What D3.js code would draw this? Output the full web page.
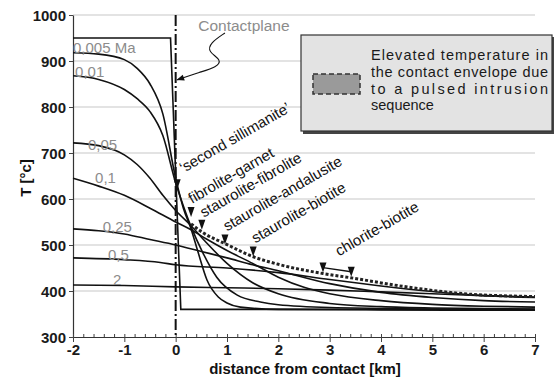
<!DOCTYPE html>
<html>
<head>
<meta charset="utf-8">
<script src="https://cdn.jsdelivr.net/npm/d3@7"></script>
<style>
body { margin: 0; background: #fff; }
svg { font-family: Arial, "Liberation Sans", sans-serif; }
</style>
</head>
<body>
<svg id="chart" width="554" height="380"></svg>
<script>
// profiles: [distance km, T °C]
var initial = [[-2, 950], [-0.1, 950], [0.1, 360], [7, 360]];
var t0005 = [[-2, 918], [-1.5, 915], [-1, 903], [-0.75, 884], [-0.5, 850], [-0.25, 785], [0, 645], [0.15, 580], [0.3, 535], [0.44, 483], [0.61, 424], [0.83, 387], [1, 374], [1.26, 365], [2, 360], [4, 359], [7, 358]];
var t001 = [[-2, 868], [-1.5, 860], [-1, 838], [-0.75, 818], [-0.5, 790], [-0.25, 738], [0, 635], [0.15, 585], [0.3, 540], [0.53, 483], [0.8, 430], [1.2, 391], [1.65, 376], [2, 370], [3, 364], [5, 361], [7, 359]];
var t005 = [[-2, 722], [-1.5, 716], [-1, 696], [-0.75, 675], [-0.5, 645], [-0.25, 608], [0, 575], [0.3, 542], [0.6, 505], [1, 460], [1.5, 418], [2, 394], [3, 373], [4, 366], [5, 363], [7, 361]];
var t01 = [[-2, 645], [-1.5, 628], [-1, 608], [-0.5, 580], [0, 550], [0.3, 533], [0.6, 513], [1, 488], [1.5, 460], [2, 430], [2.5, 408], [3, 394], [4, 379], [5, 371], [6, 367], [7, 365]];
var t025 = [[-2, 535], [-1.5, 531], [-1, 524], [-0.5, 512], [0, 500], [0.5, 486], [1, 472], [1.5, 457], [2, 444], [3, 416], [4, 397], [5, 386], [6, 379], [7, 376]];
var t05 = [[-2, 472], [-1, 468], [-0.3, 462], [0, 457], [1, 450], [2, 440], [3, 425], [4, 411], [5, 399], [6, 390], [7, 386]];
var t2 = [[-2, 413], [-1, 412], [0, 409], [1, 407], [2, 405], [3, 402], [4, 398], [5, 394], [6, 390], [7, 387]];
var profiles = [t0005, t001, t005, t01, t025, t05, t2];
var ages = ["0,005 Ma", "0,01", "0,05", "0,1", "0,25", "0,5", "2"];

// pulsed intrusion envelope
var envelope = [[0.3, 546], [0.5, 529], [1, 501], [1.5, 475], [2, 458], [2.87, 438], [3.4, 429], [4.43, 410], [5.74, 393], [7, 388]];

// isograds: name, distance, T
var isograds = ["\u2018second sillimanite\u2019", "fibrolite-garnet", "staurolite-fibrolite", "staurolite-andalusite", "staurolite-biotite", "chlorite-biotite"];
var isogradX = [0.03, 0.3, 0.51, 0.96, 1.51, 2.87];
var isogradT = [621, 561, 533, 501, 475, 440];
var chloriteEnd = [3.42, 431];

var xTicks = [-2, -1, 0, 1, 2, 3, 4, 5, 6, 7];
var yTicks = [300, 400, 500, 600, 700, 800, 900, 1000];

var svg = d3.select("#chart");
var x = d3.scaleLinear().domain([-2, 7]).range([73, 535]);
var y = d3.scaleLinear().domain([300, 1000]).range([337, 15]);

// grid
svg.append("g").selectAll("line")
    .data(yTicks.slice(1))
    .enter().append("line")
    .attr("x1", x(-2)).attr("x2", x(7))
    .attr("y1", function(d){ return y(d); })
    .attr("y2", function(d){ return y(d); })
    .attr("stroke", "#c8c8c8").attr("stroke-width", 1.2);

// axes
var yAxis = svg.append("g")
    .attr("transform", "translate(" + x(-2) + ",0)")
    .call(d3.axisLeft(y).tickValues(yTicks).tickSize(4).tickSizeOuter(0).tickFormat(function(d){ return String(d); }));
var xAxis = svg.append("g")
    .attr("transform", "translate(0," + y(300) + ")")
    .call(d3.axisBottom(x).tickValues(xTicks).tickSize(5).tickSizeOuter(0).tickFormat(function(d){ return String(d); }));
svg.append("g")
    .attr("transform", "translate(0," + y(300) + ")")
    .call(d3.axisTop(x).tickValues(d3.range(-2, 7.01, 0.2)).tickSize(3).tickFormat(""))
    .select(".domain").remove();
[yAxis, xAxis].forEach(function(a){
    a.selectAll("text").attr("font-size", 15).attr("font-weight", "bold").attr("fill", "#1a1a1a")
        .style("font-family", "Arial, 'Liberation Sans', sans-serif");
    a.select(".domain").attr("stroke", "#333").attr("stroke-width", 1.2);
});
yAxis.selectAll("text").attr("x", -7).attr("dy", "0.36em");
xAxis.selectAll("text").attr("y", 7);
svg.selectAll(".tick line").attr("stroke", "#444");

svg.append("text")
    .attr("x", 305).attr("y", 374)
    .attr("text-anchor", "middle")
    .attr("font-size", 15).attr("font-weight", "bold").attr("fill", "#111")
    .text("distance from contact [km]");
svg.append("text")
    .attr("transform", "translate(31," + (y(650) + 2) + ") rotate(-90)")
    .attr("text-anchor", "middle")
    .attr("font-size", 15).attr("font-weight", "bold").attr("fill", "#111")
    .text("T [\u00b0c]");

// curves
var line = d3.line()
    .x(function(d){ return x(d[0]); })
    .y(function(d){ return y(d[1]); })
    .curve(d3.curveMonotoneX);

svg.append("path")
    .datum(initial)
    .attr("d", d3.line().x(function(d){ return x(d[0]); }).y(function(d){ return y(d[1]); }))
    .attr("fill", "none").attr("stroke", "#111").attr("stroke-width", 1.6);

svg.append("g").selectAll("path")
    .data(profiles)
    .enter().append("path")
    .attr("d", line)
    .attr("fill", "none").attr("stroke", "#111").attr("stroke-width", 1.6);

svg.append("path")
    .datum(envelope)
    .attr("d", line)
    .attr("fill", "none").attr("stroke", "#222")
    .attr("stroke-width", 3).attr("stroke-dasharray", "3,2");

// contact plane
svg.append("line")
    .attr("x1", x(0)).attr("x2", x(0))
    .attr("y1", y(1000)).attr("y2", y(300))
    .attr("stroke", "#111").attr("stroke-width", 2)
    .attr("stroke-dasharray", "11,3,2,3");

// age labels
var ageAt = [[-2, 917], [-1.96, 865], [-1.71, 706], [-1.57, 635], [-1.42, 528], [-1.32, 467], [-1.22, 414]];
svg.append("g").selectAll("text")
    .data(ages)
    .enter().append("text")
    .attr("x", function(d, i){ return x(ageAt[i][0]); })
    .attr("y", function(d, i){ return y(ageAt[i][1]); })
    .attr("font-size", 15).attr("fill", "#8c8c8c")
    .text(function(d){ return d; });

// contact plane annotation
svg.append("defs").append("marker")
    .attr("id", "head").attr("viewBox", "0 0 10 10")
    .attr("refX", 9).attr("refY", 5)
    .attr("markerWidth", 9).attr("markerHeight", 7)
    .attr("orient", "auto")
    .append("path").attr("d", "M0,1 L10,5 L0,9 Z").attr("fill", "#111");
svg.append("text")
    .attr("x", x(0.44)).attr("y", y(965))
    .attr("font-size", 15.5).attr("fill", "#8c8c8c")
    .text("Contactplane");
var squiggle = [[0.96, 961], [0.67, 939], [0.63, 920], [0.9, 902], [0.8, 887], [0.48, 876], [0.03, 859]];
svg.append("path")
    .datum(squiggle)
    .attr("d", d3.line().x(function(d){ return x(d[0]); }).y(function(d){ return y(d[1]); }).curve(d3.curveBasis))
    .attr("fill", "none").attr("stroke", "#111").attr("stroke-width", 1.1)
    .attr("marker-end", "url(#head)");

// isograd markers and labels
function tri(px, py) {
    return "M" + px + "," + py + "l-3.5,-10l7,0z";
}
var labelShift = [[6, -16], [1, -13], [2, -12], [2, -13], [2, -13], [16, -16]];
var iso = svg.append("g");
isograds.forEach(function(name, i){
    var px = x(isogradX[i]), py = y(isogradT[i]);
    iso.append("path").attr("d", tri(px, py)).attr("fill", "#111");
    iso.append("text")
        .attr("transform", "translate(" + (px + labelShift[i][0]) + "," + (py + labelShift[i][1]) + ") rotate(-30)")
        .attr("font-size", 15).attr("fill", "#111")
        .text(name);
});
var cx2 = x(chloriteEnd[0]), cy2 = y(chloriteEnd[1]);
iso.append("path").attr("d", tri(cx2, cy2)).attr("fill", "#111");
iso.append("line")
    .attr("x1", x(isogradX[5])).attr("y1", y(isogradT[5]) - 5)
    .attr("x2", cx2).attr("y2", cy2 - 5)
    .attr("stroke", "#111").attr("stroke-width", 1.3);

// legend
var lg = svg.append("g");
lg.append("rect").attr("x", 303).attr("y", 37).attr("width", 252).attr("height", 97).attr("fill", "#444");
lg.append("rect").attr("x", 301).attr("y", 35).attr("width", 251).attr("height", 96)
    .attr("fill", "#e3e3e3").attr("stroke", "#333").attr("stroke-width", 1.2);
lg.append("rect").attr("x", 313).attr("y", 74).attr("width", 47).attr("height", 20)
    .attr("fill", "#9a9a9a").attr("stroke", "#333").attr("stroke-width", 1.5).attr("stroke-dasharray", "5,3");
var legendLines = ["Elevated temperature in", "the contact envelope due", "to a pulsed intrusion", "sequence"];
lg.selectAll("text.l")
    .data(legendLines)
    .enter().append("text")
    .attr("x", 371)
    .attr("y", function(d, i){ return 60 + i * 16.8; })
    .attr("font-size", 14.5).attr("fill", "#1a1a1a")
    .each(function(d, i){
        if (i < 3) d3.select(this).attr("textLength", 177).attr("lengthAdjust", "spacing");
    })
    .text(function(d){ return d; });
</script>
</body>
</html>
